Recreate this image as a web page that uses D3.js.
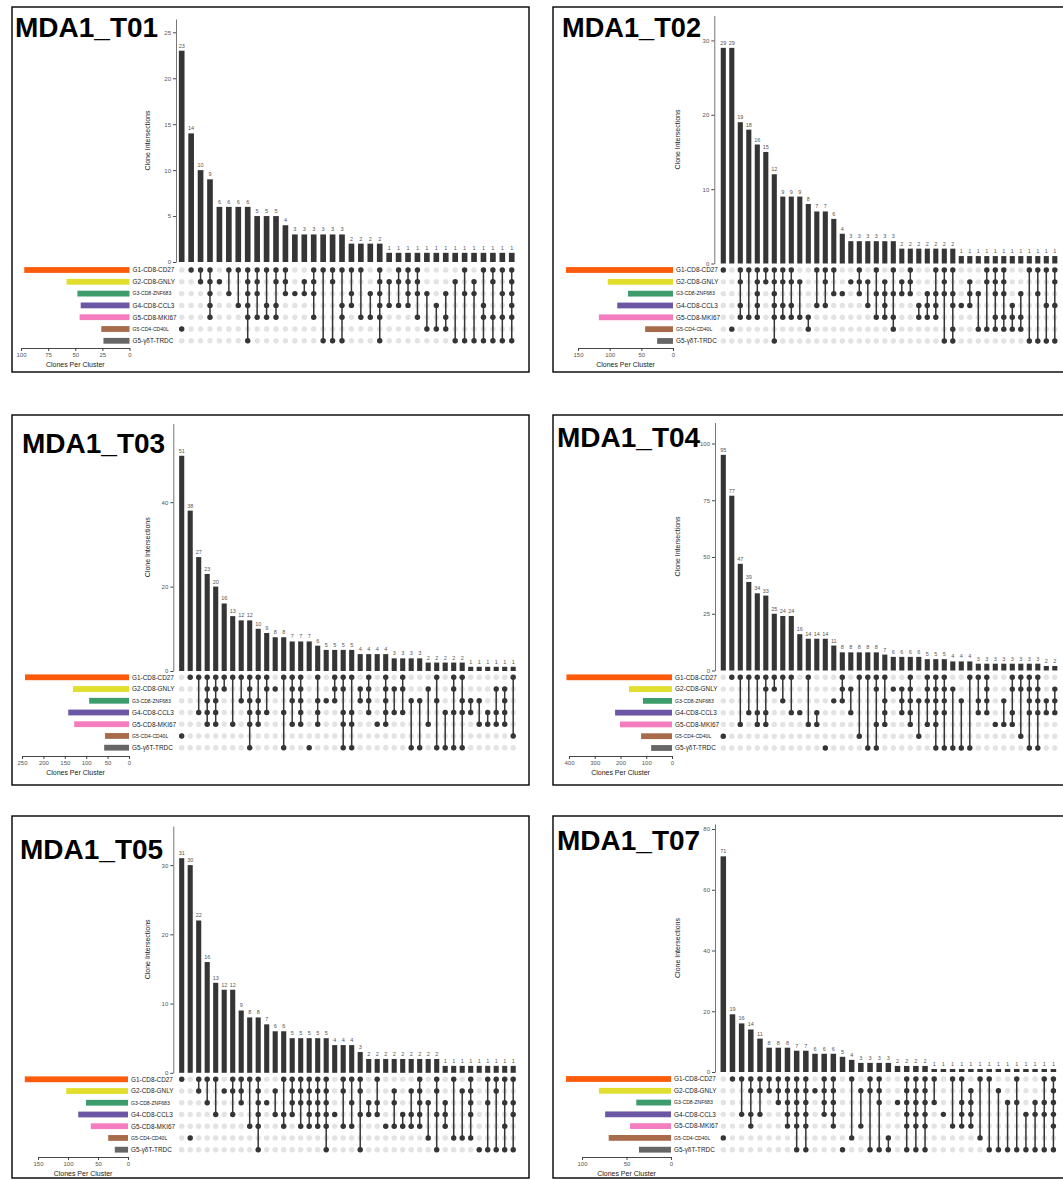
<!DOCTYPE html>
<html><head><meta charset="utf-8">
<script src="https://cdn.jsdelivr.net/npm/d3@7"></script>
<style>body{margin:0;background:#fff}svg{display:block}text{font-family:"Liberation Sans",Arial,sans-serif}</style>
</head><body>
<svg id="c" width="1063" height="1180"></svg>
<script>
// ---------- DATA ----------
const setNames = ["G1-CD8-CD27","G2-CD8-GNLY","G3-CD8-ZNF683","G4-CD8-CCL3","G5-CD8-MKI67","G5-CD4-CD40L","G5-γδT-TRDC"];
const panelTitles = ["MDA1_T01","MDA1_T02","MDA1_T03","MDA1_T04","MDA1_T05","MDA1_T07"];

const t01Counts = [23,14,10,9,6,6,6,6,5,5,5,4,3,3,3,3,3,3,2,2,2,2,1,1,1,1,1,1,1,1,1,1,1,1,1,1];
const t01Members = [[5],[0],[0,1],[0,1,2,3,4],[1],[0,2],[0,3],[0,1,2,3,4,6],[0,1,2,4],[0,3,4],[0,1,3,4],[0,1,2],[2],[1,2],[0,1,2,4],[0,6],[0,1,6],[0,3,4,6],[0,2,3],[0,4],[2,4],[0,1,2,3,4,6],[1,3],[0,1,3],[0,1,2,3],[0,1,2,4],[2,5],[3,5],[2,4,5],[1,6],[0,2,6],[1,2,6],[0,3,4,6],[0,1,4,6],[0,2,4,6],[0,1,2,3,4,6]];
const t01SetSizes = [97,58,48,45,46,26,24];
const t01YTicks = [0,5,10,15,20,25];
const t01SizeTicks = [0,25,50,75,100];

const t02Counts = [29,29,19,18,16,15,12,9,9,9,8,7,7,6,4,3,3,3,3,3,3,2,2,2,2,2,2,2,1,1,1,1,1,1,1,1,1,1,1,1];
const t02Members = [[0],[5],[0,1,3,4],[0,4],[0,1,2,3,4],[0,1],[0,1,2,3,4,6],[0,1,3,4],[0,1,3,4],[1,4],[4,5],[0,3],[0,1,3],[0,2],[2],[1],[0,1,2],[1,3],[0,2,4],[1,2,3,4],[0,2,4,5],[1,2],[0,1,2],[3,4],[2,3,4],[0,2,3,4],[0,1,2,6],[0,2,3,5,6],[3],[1,2,3],[2,5],[0,1,5],[0,1,2,4,5],[0,1,2,4,5],[3,4,5],[2,4,5],[0,6],[0,2,6],[0,3,6],[0,1,3,6]];
const t02SetSizes = [169,103,71,88,117,44,25];
const t02YTicks = [0,10,20,30];
const t02SizeTicks = [0,50,100,150];

const t03Counts = [51,38,27,23,20,16,13,12,12,10,9,8,8,7,7,7,6,5,5,5,5,4,4,4,4,3,3,3,3,2,2,2,2,2,1,1,1,1,1,1];
const t03Members = [[5],[0],[0,3],[0,1,2,3,4],[0,1,2,3,4],[0,1],[0,4],[0,2],[0,1,2,3,4,6],[0,2,3,4],[0,1,3],[1],[0,3,6],[0,1,2,4],[0,1,2,3,4],[6],[0,2,3,4],[2],[0,1,2],[0,1,3,4,6],[0,3,4,6],[1,2],[0,1,2,3],[4],[0,1,2,3,4],[1,3],[0,1,3],[2,6],[2,6],[1,4],[0,2,6],[3,6],[0,1,3,6],[0,2,3,6],[2,3],[2,4],[3,4],[1,3,4],[1,2,3,4],[0,5]];
const t03SetSizes = [243,131,93,142,128,56,58];
const t03YTicks = [0,20,40];
const t03SizeTicks = [0,50,100,150,200,250];

const t04Counts = [95,77,47,39,34,33,25,24,24,16,14,14,14,11,8,8,8,8,8,7,6,6,6,6,5,5,5,4,4,4,3,3,3,3,3,3,3,3,2,2];
const t04Members = [[5],[0],[0,4],[0,3],[0,3,4],[0,1,3,4],[0,1],[0,2],[0,3],[3],[0,4],[3,4],[6],[2],[0,1,2],[1,3],[0,5],[0,6],[0,1,4,6],[0,2,3,4],[1],[1,2,3],[0,1,2,3,4],[2,5],[0,1,2,4],[0,1,2,3,4,6],[0,1,2,3,6],[1,6],[2,6],[0,6],[0,2,3],[0,1,2,3],[4],[2,4],[0,1,3,4],[0,1,5],[0,1,2,3,6],[0,1,2,3,6],[2,3],[1,2,3]];
const t04SetSizes = [410,167,113,221,202,120,81];
const t04YTicks = [0,25,50,75,100];
const t04SizeTicks = [0,100,200,300,400];

const t05Counts = [31,30,22,16,13,12,12,9,8,8,7,6,6,5,5,5,5,5,4,4,4,3,2,2,2,2,2,2,2,2,2,1,1,1,1,1,1,1,1,1];
const t05Members = [[0],[5],[0,1],[0,2],[0,3],[1],[0,1,3],[0,1,2],[0,4],[0,1,2,3,4,6],[2],[1,3],[0,3,4],[0,1,2,3],[0,1,2,4],[0,1,2,3,4],[0,1,2,3,4],[0,1,2,3,4,6],[3],[0,1,4],[0,2,4],[0,1,3,6],[2,3],[0,2,3],[4],[1,2,4],[3,4],[1,3,4],[0,1,2,3,4],[2,5],[0,1,3,6],[2,3,4],[0,5],[1,5],[0,1,2,3,5],[6],[0,2,6],[0,1,6],[0,2,4,6],[0,2,3,6]];
const t05SetSizes = [172,103,70,83,62,33,22];
const t05YTicks = [0,10,20,30];
const t05SizeTicks = [0,50,100,150];

const t07Counts = [71,19,16,14,11,8,8,8,7,7,6,6,6,5,4,3,3,3,3,2,2,2,2,1,1,1,1,1,1,1,1,1,1,1,1,1,1];
const t07Members = [[5],[0],[0,3],[0,1,3,4],[0,1,3],[0,1],[0,1,2],[0,1,2,3,4],[0,1,2,3,4,6],[0,1,2,3,4,6],[1],[0,1,2,3],[0,1,2,3,4],[6],[0,5],[1,4],[0,1,6],[0,1,2,6],[5,6],[2],[0,1,2,3,4,6],[0,1,2,3,4,6],[0,1,2,3,4,6],[0,2],[3],[0,4],[0,2,3,4],[1,2,3,4],[0,5],[0,6],[1,6],[2,6],[0,2,6],[3,6],[2,3,6],[0,2,3,6],[0,1,2,3,4,6]];
const t07SetSizes = [118,81,39,74,46,70,36];
const t07YTicks = [0,20,40,60,80];
const t07SizeTicks = [0,50,100];

// ---------- STYLE / LAYOUT ----------
const setColors = ["#fb5b0b","#e2de2e","#3d9c6b","#6c57a5","#f37dbf","#a76b4c","#666666"];
const smallLabel = [false,false,true,false,false,true,false];

const panels = [
  {title:panelTitles[0], counts:t01Counts, members:t01Members, sizes:t01SetSizes, yTicks:t01YTicks, sizeTicks:t01SizeTicks,
   L:{box:[12,7,517,365], title:[15,37], titleSize:28, axisX:176, x0:181.7, step:9.43, baseY:262, topY:19, rowY0:270, rowStep:11.8, setZero:129.5, setMaxX:21, setAxisY:348, ylabX:150}},
  {title:panelTitles[1], counts:t02Counts, members:t02Members, sizes:t02SetSizes, yTicks:t02YTicks, sizeTicks:t02SizeTicks,
   L:{box:[553,7,520,365], title:[562,37], titleSize:27.2, axisX:714.3, x0:723.3, step:8.5, baseY:263.5, topY:15.5, rowY0:270, rowStep:11.83, setZero:673, setMaxX:578, setAxisY:348, ylabX:680}},
  {title:panelTitles[2], counts:t03Counts, members:t03Members, sizes:t03SetSizes, yTicks:t03YTicks, sizeTicks:t03SizeTicks,
   L:{box:[12,415,517,370], title:[22,453], titleSize:28, axisX:173.3, x0:181.7, step:8.5, baseY:671, topY:423.5, rowY0:677.3, rowStep:11.73, setZero:129, setMaxX:22, setAxisY:756, ylabX:150}},
  {title:panelTitles[3], counts:t04Counts, members:t04Members, sizes:t04SetSizes, yTicks:t04YTicks, sizeTicks:t04SizeTicks,
   L:{box:[553,415,520,370], title:[557,447], titleSize:28, axisX:715, x0:723.3, step:8.5, baseY:670.5, topY:422.5, rowY0:677.3, rowStep:11.78, setZero:672, setMaxX:569, setAxisY:756, ylabX:680}},
  {title:panelTitles[4], counts:t05Counts, members:t05Members, sizes:t05SetSizes, yTicks:t05YTicks, sizeTicks:t05SizeTicks,
   L:{box:[12,816,517,362], title:[20,859], titleSize:28, axisX:173.3, x0:181.7, step:8.5, baseY:1072.8, topY:826, rowY0:1079.3, rowStep:11.73, setZero:128, setMaxX:38, setAxisY:1157, ylabX:150}},
  {title:panelTitles[5], counts:t07Counts, members:t07Members, sizes:t07SetSizes, yTicks:t07YTicks, sizeTicks:t07SizeTicks,
   L:{box:[553,816,520,362], title:[557,850], titleSize:28, axisX:715, x0:723.3, step:9.17, baseY:1072, topY:824, rowY0:1079, rowStep:11.78, setZero:671, setMaxX:582, setAxisY:1157, ylabX:680}}
];

const svg = d3.select("#c");

function drawPanel(p){
  const L = p.L;
  const g = svg.append("g");
  const n = p.counts.length;
  const idx = d3.range(n);

  const x = d3.scaleBand().domain(idx)
    .range([L.x0 - L.step/2, L.x0 - L.step/2 + n*L.step])
    .paddingInner(0.4).paddingOuter(0.2);
  const cx = i => x(i) + x.bandwidth()/2;

  const y = d3.scaleLinear().domain([0, d3.max(p.counts)*1.15]).range([L.baseY, L.topY]);

  const rowY = d3.scalePoint().domain(d3.range(setNames.length))
    .range([L.rowY0, L.rowY0 + L.rowStep*(setNames.length-1)]);

  const sx = d3.scaleLinear().domain([0, d3.max(p.sizeTicks)]).range([L.setZero, L.setMaxX]);

  // y axis
  const ya = g.append("g").attr("transform",`translate(${L.axisX},0)`)
    .call(d3.axisLeft(y).tickValues(p.yTicks).tickSize(3).tickSizeOuter(0).tickPadding(2));
  ya.select(".domain").attr("stroke","#666").attr("stroke-width",0.9);
  ya.selectAll(".tick line").attr("stroke","#333").attr("stroke-width",0.9);
  ya.selectAll(".tick text").attr("font-size",6).attr("fill","#555").attr("font-family","Liberation Sans, Arial, sans-serif");

  g.append("text").attr("transform",`translate(${L.ylabX},${(L.baseY+L.topY)/2}) rotate(-90)`)
    .attr("text-anchor","middle").attr("font-size",7).attr("fill","#222").text("Clone Intersections");

  // bars
  g.selectAll("rect.bar").data(p.counts).join("rect").attr("class","bar")
    .attr("x",(d,i)=>x(i)).attr("width",x.bandwidth())
    .attr("y",d=>y(d)).attr("height",d=>y(0)-y(d)).attr("fill","#353535");
  g.selectAll("text.val").data(p.counts).join("text").attr("class","val")
    .attr("x",(d,i)=>cx(i)).attr("y",d=>y(d)-3).attr("text-anchor","middle")
    .attr("font-size",5.5).attr("fill","#555").text(d=>d);

  // matrix background dots
  const bg = [];
  idx.forEach(i => d3.range(setNames.length).forEach(r => bg.push([i,r])));
  g.selectAll("circle.bg").data(bg).join("circle").attr("class","bg")
    .attr("cx",d=>cx(d[0])).attr("cy",d=>rowY(d[1])).attr("r",2.7).attr("fill","#e3e3e3");

  // connecting lines
  g.selectAll("line.conn").data(p.members.map((m,i)=>({i,m})).filter(d=>d.m.length>1)).join("line").attr("class","conn")
    .attr("x1",d=>cx(d.i)).attr("x2",d=>cx(d.i))
    .attr("y1",d=>rowY(d3.min(d.m))).attr("y2",d=>rowY(d3.max(d.m)))
    .attr("stroke","#353535").attr("stroke-width",1.5);

  // active dots
  const act = [];
  p.members.forEach((m,i)=>m.forEach(r=>act.push([i,r])));
  g.selectAll("circle.act").data(act).join("circle").attr("class","act")
    .attr("cx",d=>cx(d[0])).attr("cy",d=>rowY(d[1])).attr("r",2.7).attr("fill","#353535");

  // set size bars
  g.selectAll("rect.set").data(p.sizes).join("rect").attr("class","set")
    .attr("x",d=>sx(d)).attr("width",d=>sx(0)-sx(d))
    .attr("y",(d,r)=>rowY(r)-2.9).attr("height",5.8)
    .attr("fill",(d,r)=>setColors[r]);

  g.selectAll("text.setlab").data(setNames).join("text").attr("class","setlab")
    .attr("x",L.setZero+3).attr("y",(d,r)=>rowY(r)+(smallLabel[r]?1.8:2.3))
    .attr("font-size",(d,r)=>smallLabel[r]?5.1:6.4).attr("fill","#222").text(d=>d);

  // set size axis
  const sa = g.append("g").attr("transform",`translate(0,${L.setAxisY})`)
    .call(d3.axisBottom(sx).tickValues(p.sizeTicks).tickSize(3).tickSizeOuter(0).tickPadding(1.5));
  sa.select(".domain").attr("stroke","#333").attr("stroke-width",0.9);
  sa.selectAll(".tick line").attr("stroke","#333").attr("stroke-width",0.9);
  sa.selectAll(".tick text").attr("font-size",6).attr("fill","#555").attr("font-family","Liberation Sans, Arial, sans-serif");
  g.append("text").attr("x",(L.setZero+L.setMaxX)/2).attr("y",L.setAxisY+19)
    .attr("text-anchor","middle").attr("font-size",7).attr("fill","#222").text("Clones Per Cluster");

  // box and title
  g.append("rect").attr("x",L.box[0]).attr("y",L.box[1]).attr("width",L.box[2]).attr("height",L.box[3])
    .attr("fill","none").attr("stroke","#000").attr("stroke-width",1.4);
  g.append("text").attr("x",L.title[0]).attr("y",L.title[1]).attr("font-size",L.titleSize).attr("font-weight","bold")
    .attr("fill","#000").text(p.title);
}

panels.forEach(drawPanel);
</script>
</body></html>
